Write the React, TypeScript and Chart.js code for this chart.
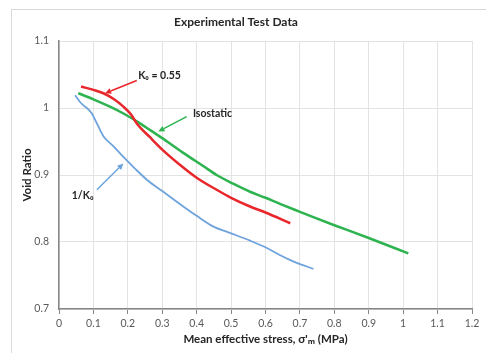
import React, { useEffect, useRef } from "react";
import { Chart, registerables } from "chart.js";

Chart.register(...registerables);

const chartTitle = "Experimental Test Data";
const xAxisTitle = "Mean effective stress, σ'ₘ (MPa)";
const yAxisTitle = "Void Ratio";

const xTickLabels = ["0", "0.1", "0.2", "0.3", "0.4", "0.5", "0.6", "0.7", "0.8", "0.9", "1", "1.1", "1.2"];
const yTickLabels = ["0.7", "0.8", "0.9", "1", "1.1"];

// K0 = 0.55 (red)
const k0X = [0.064, 0.1, 0.129, 0.16, 0.187, 0.21, 0.226, 0.265, 0.3, 0.352, 0.4, 0.458, 0.5, 0.555, 0.6, 0.672];
const k0Y = [1.032, 1.027, 1.022, 1.013, 1.002, 0.99, 0.977, 0.956, 0.938, 0.915, 0.896, 0.878, 0.866, 0.853, 0.844, 0.828];

// Isostatic (green)
const isoX = [0.056, 0.1, 0.148, 0.19, 0.226, 0.265, 0.3, 0.361, 0.42, 0.458, 0.506, 0.555, 0.6, 0.642, 0.7, 0.739, 0.8, 0.9, 1.015];
const isoY = [1.022, 1.013, 1.002, 0.991, 0.98, 0.967, 0.955, 0.933, 0.913, 0.9, 0.887, 0.875, 0.866, 0.857, 0.845, 0.837, 0.825, 0.806, 0.783];

// 1/K0 (blue)
const invX = [0.047, 0.061, 0.071, 0.085, 0.095, 0.11, 0.129, 0.16, 0.187, 0.22, 0.255, 0.3, 0.361, 0.4, 0.449, 0.5, 0.555, 0.604, 0.64, 0.672, 0.7, 0.739];
const invY = [1.019, 1.009, 1.004, 0.998, 0.992, 0.977, 0.958, 0.942, 0.927, 0.91, 0.893, 0.876, 0.853, 0.839, 0.823, 0.813, 0.802, 0.791, 0.781, 0.773, 0.767, 0.76];

// annotations: label text, label anchor, arrow tail, arrow head (data coordinates)
const annLabels = ["K₀ = 0.55", "Isostatic", "1/K₀"];
const annColors = ["#e8262b", "#2db34f", "#6fa3dc"];
const annTextAt = [[0.23, 1.048], [0.389, 0.992], [0.037, 0.869]];
const annTail = [[0.226, 1.041], [0.371, 0.987], [0.11, 0.878]];
const annHead = [[0.134, 1.022], [0.289, 0.965], [0.187, 0.917]];

const toPts = (xs: number[], ys: number[]) => xs.map((x, i) => ({ x, y: ys[i] }));

const FONT = "Lato, 'Open Sans', sans-serif";

const annotationPlugin = {
  id: "arrowNotes",
  afterDatasetsDraw(chart: any) {
    const { ctx, scales } = chart;
    const xs = scales.x;
    const ys = scales.y;
    ctx.save();
    annLabels.forEach((label, i) => {
      const tx = xs.getPixelForValue(annTail[i][0]);
      const ty = ys.getPixelForValue(annTail[i][1]);
      const hx = xs.getPixelForValue(annHead[i][0]);
      const hy = ys.getPixelForValue(annHead[i][1]);
      ctx.strokeStyle = annColors[i];
      ctx.fillStyle = annColors[i];
      ctx.lineWidth = 1.5;
      const ang = Math.atan2(hy - ty, hx - tx);
      const hl = 6;
      const bx = hx - Math.cos(ang) * hl;
      const by = hy - Math.sin(ang) * hl;
      ctx.beginPath();
      ctx.moveTo(tx, ty);
      ctx.lineTo(bx, by);
      ctx.stroke();
      ctx.beginPath();
      ctx.moveTo(hx, hy);
      ctx.lineTo(bx + Math.cos(ang + Math.PI / 2) * 3, by + Math.sin(ang + Math.PI / 2) * 3);
      ctx.lineTo(bx + Math.cos(ang - Math.PI / 2) * 3, by + Math.sin(ang - Math.PI / 2) * 3);
      ctx.closePath();
      ctx.fill();
      ctx.fillStyle = "#262626";
      ctx.font = `bold 10.5px ${FONT}`;
      ctx.textBaseline = "middle";
      ctx.textAlign = "left";
      ctx.fillText(label, xs.getPixelForValue(annTextAt[i][0]), ys.getPixelForValue(annTextAt[i][1]));
    });
    ctx.restore();
  },
};

export default function App() {
  const ref = useRef<HTMLCanvasElement | null>(null);

  useEffect(() => {
    document.body.style.margin = "0";
    if (!ref.current) return;
    const common = {
      pointRadius: 0,
      cubicInterpolationMode: "monotone" as const,
      fill: false,
    };
    const chart = new Chart(ref.current, {
      type: "line",
      data: {
        datasets: [
          { label: "K0 = 0.55", data: toPts(k0X, k0Y), borderColor: "#e8262b", borderWidth: 2.5, ...common },
          { label: "Isostatic", data: toPts(isoX, isoY), borderColor: "#2db34f", borderWidth: 2.5, ...common },
          { label: "1/K0", data: toPts(invX, invY), borderColor: "#6fa3dc", borderWidth: 1.8, ...common },
        ],
      },
      options: {
        animation: false,
        responsive: false,
        maintainAspectRatio: false,
        layout: { padding: { left: 0, right: 14, top: 0, bottom: 0 } },
        plugins: {
          legend: { display: false },
          tooltip: { enabled: false },
          title: {
            display: true,
            text: chartTitle,
            color: "#262626",
            font: { family: FONT, size: 12, weight: "bold" },
            padding: { top: 15, bottom: 11.6 },
          },
        },
        scales: {
          x: {
            type: "linear",
            min: 0,
            max: 1.2,
            afterFit: (s: any) => {
              s.height = 44;
            },
            ticks: {
              stepSize: 0.1,
              color: "#595959",
              font: { family: FONT, size: 10.5 },
              padding: 3,
              maxRotation: 0,
              autoSkip: false,
              callback: (_v: any, i: number) => xTickLabels[i],
            },
            grid: {
              color: "#e3e3e3",
              lineWidth: 1,
              tickLength: 5,
              tickColor: "#868686",
            },
            border: { color: "#868686", width: 1.5 },
            title: {
              display: true,
              text: xAxisTitle,
              color: "#262626",
              font: { family: FONT, size: 11.5, weight: "bold" },
              padding: { top: 0, bottom: 7 },
            },
          },
          y: {
            type: "linear",
            min: 0.7,
            max: 1.1,
            afterFit: (s: any) => {
              s.width = 59;
            },
            ticks: {
              stepSize: 0.1,
              color: "#595959",
              font: { family: FONT, size: 10.5 },
              padding: 10,
              callback: (_v: any, i: number) => yTickLabels[i],
            },
            grid: {
              color: "#e3e3e3",
              lineWidth: 1,
              drawTicks: false,
            },
            border: { color: "#868686", width: 1.5 },
            title: {
              display: true,
              text: yAxisTitle,
              color: "#262626",
              font: { family: FONT, size: 11.5, weight: "bold" },
              padding: { top: 20, bottom: 0 },
            },
          },
        },
      },
      plugins: [annotationPlugin],
    });
    return () => chart.destroy();
  }, []);

  return (
    <div style={{ position: "fixed", left: 0, top: 0, width: 486, height: 353, background: "#fff" }}>
      <div
        style={{
          position: "absolute",
          left: 11,
          top: 9,
          width: 486,
          height: 353,
          borderLeft: "1px solid #d9d9d9",
          borderTop: "1px solid #d9d9d9",
        }}
      />
      <canvas ref={ref} width={486} height={353} style={{ position: "absolute", left: 0, top: 0 }} />
    </div>
  );
}
